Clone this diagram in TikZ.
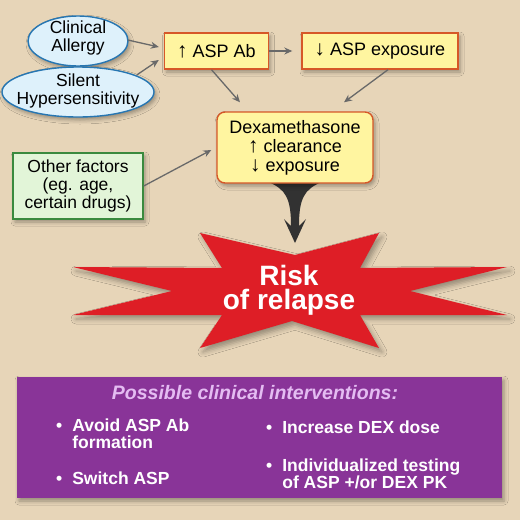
\documentclass[tikz,border=0pt]{standalone}
\usepackage{fontspec}
\setmainfont{Liberation Sans}
\usetikzlibrary{shapes.geometric,shadows.blur,arrows.meta,calc}
\definecolor{bgtan}{RGB}{231,213,184}
\definecolor{boxyellow}{RGB}{255,245,160}
\definecolor{boxorange}{RGB}{214,88,40}
\definecolor{ellfill}{RGB}{222,241,251}
\definecolor{ellline}{RGB}{38,118,178}
\definecolor{grnfill}{RGB}{226,245,216}
\definecolor{grnline}{RGB}{58,138,62}
\definecolor{starred}{RGB}{222,30,38}
\definecolor{purplebox}{RGB}{137,52,152}
\definecolor{lavtext}{RGB}{228,188,242}
\definecolor{conngray}{RGB}{105,105,105}
\definecolor{funnelgray}{RGB}{50,50,50}
\newcommand{\myup}{{\bfseries\fontsize{21}{19}\selectfont ↑}}
\newcommand{\mydown}{{\bfseries\fontsize{21}{19}\selectfont ↓}}
\begin{document}
\begin{tikzpicture}[x=1pt,y=-1pt,
  shad/.style={blur shadow={shadow xshift=2pt,shadow yshift=-3pt,shadow blur radius=4pt,shadow opacity=35}},
  ybox/.style={draw=boxorange,fill=boxyellow,line width=1.4pt,inner sep=0pt,shad,align=center,font=\fontsize{18}{19}\selectfont},
  bell/.style={ellipse,draw=ellline,fill=ellfill,line width=1.4pt,inner sep=0pt,shad},
  elltext/.style={inner sep=0pt,align=center,font=\fontsize{17.5}{18}\selectfont},
  gbox/.style={draw=grnline,fill=grnfill,line width=1.4pt,inner sep=0pt,shad,align=center,font=\fontsize{17.5}{18}\selectfont},
  conn/.style={draw=conngray,line width=1.3pt,-{Stealth[length=8pt,width=7pt]}},
  bullets/.style={inner sep=0pt,anchor=base west,text=white,font=\bfseries\fontsize{17.5}{17}\selectfont}
]
\fill[bgtan] (0,0) rectangle (520,520);
\useasboundingbox (0,0) rectangle (520,520);

% ellipses
\node[bell, minimum width=100pt, minimum height=50pt] (allergy) at (78,41) {};
\node[elltext] (allergytext) at (78,38) {Clinical\\Allergy};
\node[bell, minimum width=152pt, minimum height=50pt] (silent) at (78,92) {};
\node[elltext] (silenttext) at (78,91) {Silent\\Hypersensitivity};

% yellow boxes
\node[ybox, minimum width=104pt, minimum height=36pt] (aspab) at (216.5,51) {\myup\ ASP Ab};
\node[ybox, minimum width=156pt, minimum height=36pt] (aspexp) at (380,51) {\mydown\ ASP exposure};

% green box
\node[gbox, minimum width=130pt, minimum height=66pt] (other) at (78,186) {Other factors\\(eg. age,\\certain drugs)};

% funnel arrow (drawn before dex box so the box covers its top)
\coordinate (dexbottom) at (295,183);
\begin{scope}[shift={(dexbottom)}]
\fill[funnelgray] (-27,-1) .. controls (-9,6) and (-4,16) .. (-4,43) -- (-11,36) -- (0,60) -- (11,36) -- (4,43) .. controls (4,16) and (9,6) .. (27,-1) -- cycle;
\end{scope}

% dex box
\node[ybox, rounded corners=8pt, minimum width=156pt, minimum height=71pt] (dex) at (295,147.5) {Dexamethasone\\\myup\ clearance\\\mydown\ exposure};

% connectors
\draw[conn] ($(allergy.east)+(-1,-1)$) -- ($(aspab.west)+(-5,-4)$);
\draw[conn] ($(silent.east)+(-18,-17)$) -- ($(aspab.west)+(-5,9)$);
\draw[conn] (aspab.east) -- ($(aspexp.west)+(-9,0)$);
\draw[conn] ($(aspab.south)+(-5,0)$) -- ($(dex.north)+(-55,-9)$);
\draw[conn] ($(aspexp.south)+(8,0)$) -- ($(dex.north)+(49,-9)$);
\draw[conn] (other.east) -- ($(dex.west)+(-5,2.5)$);

% star
\fill[starred, blur shadow={shadow xshift=3pt,shadow yshift=-4pt,shadow blur radius=5pt,shadow opacity=35}]
 (73,267) -- (222,268) -- (200,233) -- (295,255) -- (379,233) -- (360,268) -- (507,267) -- (410,291) -- (507,315) -- (360,315) -- (379,348) -- (292,321) -- (200,348) -- (222,315) -- (73,315) -- (172,291) -- cycle;
\node[inner sep=0pt,align=center,text=white,font=\bfseries\fontsize{28}{24}\selectfont] (risk) at (289,290) {Risk\\of relapse};

% purple box
\node[fill=purplebox,inner sep=0pt,minimum width=485pt,minimum height=121pt,shad] (interv) at (259.5,437.5) {};
\node[inner sep=0pt,anchor=base,text=lavtext,font=\bfseries\itshape\fontsize{19.5}{20}\selectfont] (title) at (255,399) {Possible clinical interventions:};
\node[bullets] (b1) at (56,431) {\begin{tabular}[t]{@{}l@{\hspace{10pt}}l@{}}•&Avoid ASP Ab\\&formation\end{tabular}};
\node[bullets] (b2) at (56,484) {\begin{tabular}[t]{@{}l@{\hspace{10pt}}l@{}}•&Switch ASP\end{tabular}};
\node[bullets] (b3) at (266,433) {\begin{tabular}[t]{@{}l@{\hspace{10pt}}l@{}}•&Increase DEX dose\end{tabular}};
\node[bullets] (b4) at (266,471) {\begin{tabular}[t]{@{}l@{\hspace{10pt}}l@{}}•&Individualized testing\\&of ASP +/or DEX PK\end{tabular}};
\end{tikzpicture}
\end{document}
